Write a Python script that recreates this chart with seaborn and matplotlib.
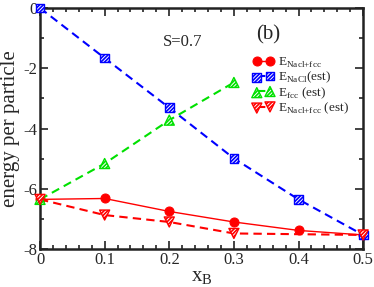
import numpy as np
import matplotlib
matplotlib.use("Agg")
import matplotlib.pyplot as plt
import seaborn as sns
from matplotlib.legend_handler import HandlerTuple
from matplotlib.ticker import MultipleLocator

# data
x_mix = [0.0, 0.1, 0.2, 0.3, 0.4, 0.5]
e_mix = [-6.35, -6.32, -6.75, -7.1, -7.38, -7.53]

x_nacl = [0.0, 0.1, 0.2, 0.3, 0.4, 0.5]
e_nacl = [0.0, -1.66, -3.31, -4.99, -6.35, -7.53]

x_fcc = [0.0, 0.1, 0.2, 0.3]
e_fcc = [-6.35, -5.16, -3.72, -2.47]

x_mix_est = [0.0, 0.1, 0.2, 0.3, 0.5]
e_mix_est = [-6.35, -6.87, -7.1, -7.48, -7.53]

labels = [r"E$_\mathrm{Nacl{+}fcc}$", r"E$_\mathrm{NaCl}$(est)",
          r"E$_\mathrm{fcc}$ (est)", r"E$_\mathrm{Nacl{+}fcc}$ (est)"]

RED, BLUE, GREEN = "#ff0000", "#0000ff", "#00e000"


def hatched(ax, x, y, marker, size, color):
    plt.rcParams["hatch.color"] = color
    return ax.scatter(x, y, marker=marker, s=size, facecolor="white",
                      edgecolor=color, hatch="/" * 9, lw=1.0, zorder=3,
                      clip_on=False)


def main():
    sns.set_style("ticks")
    plt.rcParams["font.family"] = ["Liberation Serif", "DejaVu Serif"]
    plt.rcParams["mathtext.fontset"] = "custom"
    plt.rcParams["mathtext.rm"] = "Liberation Serif"
    plt.rcParams["axes.unicode_minus"] = False
    plt.rcParams["hatch.linewidth"] = 1.2

    fig = plt.figure(figsize=(3.74, 2.87), dpi=100)
    ax = fig.add_axes([0.107, 0.132, 0.864, 0.840])

    # lines
    sns.lineplot(x=x_mix, y=e_mix, ax=ax, color=RED, lw=1.0,
                 marker="o", ms=6.5, mec=RED, mfc=RED, clip_on=False)
    l_mix = ax.lines[-1]
    sns.lineplot(x=x_nacl, y=e_nacl, ax=ax, color=BLUE, lw=1.5)
    l_nacl = ax.lines[-1]
    sns.lineplot(x=x_fcc, y=e_fcc, ax=ax, color=GREEN, lw=1.5)
    l_fcc = ax.lines[-1]
    sns.lineplot(x=x_mix_est, y=e_mix_est, ax=ax, color=RED, lw=1.5)
    l_est = ax.lines[-1]
    for ln in (l_nacl, l_fcc, l_est):
        ln.set_dashes((4, 2.5))

    # hatched markers
    s_nacl = hatched(ax, x_nacl, e_nacl, "s", 40, BLUE)
    s_fcc = hatched(ax, x_fcc, e_fcc, "^", 52, GREEN)
    s_est = hatched(ax, x_mix_est, e_mix_est, "v", 52, RED)

    ax.set_xlim(0, 0.5)
    ax.set_ylim(-8, 0)
    ax.xaxis.set_minor_locator(MultipleLocator(0.02))
    ax.yaxis.set_minor_locator(MultipleLocator(1))
    ax.set_xticks([0, 0.1, 0.2, 0.3, 0.4, 0.5])
    ax.set_xticklabels(["0", "0.1", "0.2", "0.3", "0.4", "0.5"])
    ax.set_yticks([0, -2, -4, -6, -8])
    ax.set_yticklabels(["0", "-2", "-4", "-6", "-8"])
    ax.tick_params(which="both", direction="in", top=True, right=True,
                   labelsize=12, width=1.2, color="#222222", pad=2)
    ax.tick_params(which="major", length=6)
    ax.tick_params(which="minor", length=3)
    for sp in ax.spines.values():
        sp.set_linewidth(1.8)
        sp.set_color("#222222")

    ax.set_xlabel(r"x$_\mathrm{B}$", fontsize=15, labelpad=0)
    ax.set_ylabel("energy per particle", fontsize=15, labelpad=2)

    ax.text(0.19, -1.13, "S=0.7", fontsize=12, va="center")
    ax.text(0.335, -0.88, "(b)", fontsize=15, va="center")

    handles = [(l_mix, ), (l_nacl, s_nacl), (l_fcc, s_fcc), (l_est, s_est)]
    ax.legend(handles, labels, loc="upper left", bbox_to_anchor=(0.63, 0.84),
              frameon=False, fontsize=9.5, numpoints=2, scatterpoints=2,
              handlelength=1.6, handletextpad=0.3, labelspacing=0.0,
              borderpad=0.2, handler_map={tuple: HandlerTuple(ndivide=1)})

    fig.savefig("out.png", dpi=100)


if __name__ == "__main__":
    main()
